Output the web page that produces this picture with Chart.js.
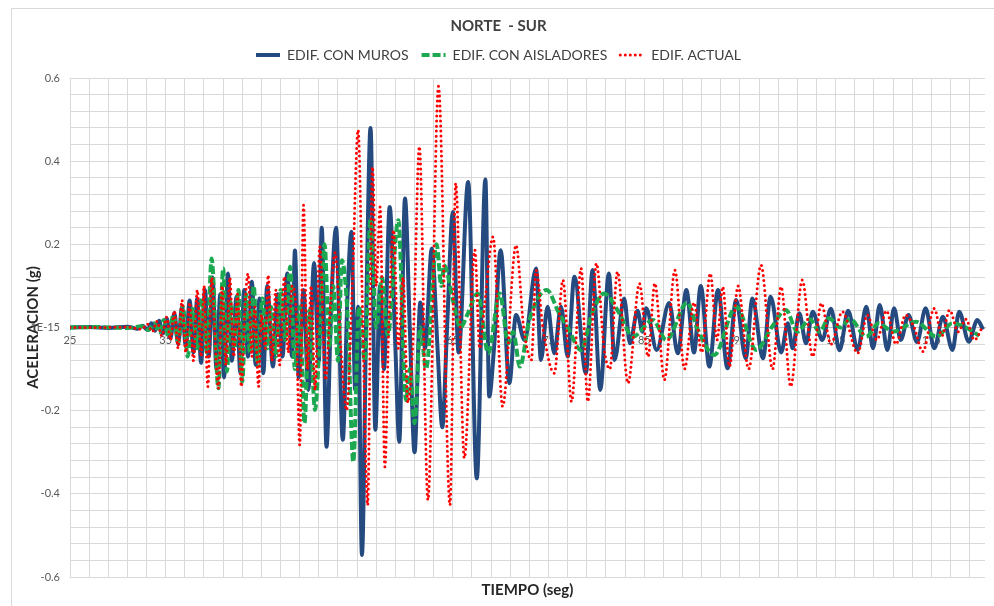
<!DOCTYPE html>
<html>
<head>
<meta charset="utf-8">
<title>NORTE - SUR</title>
<script src="https://cdn.jsdelivr.net/npm/chart.js@4.4.1/dist/chart.umd.min.js"></script>
<style>
  html, body { margin: 0; padding: 0; background: #fff; overflow: hidden; }
  #frame { position: absolute; left: 11px; top: 8px; width: 992px; height: 597px; border: 1px solid #d9d9d9; }
</style>
</head>
<body>
<div id="frame"><canvas id="chart" width="992" height="597"></canvas></div>
<script>
// Acceleration history (g) against time (s), one pair of arrays per building model
const tMuros = [25, 27, 29, 31, 32, 32.6, 33.1, 33.5, 33.9, 34.3, 34.7, 35.1, 35.5, 35.9, 36.3, 36.7, 37.1, 37.5, 37.9, 38.3,
  38.7, 39.1, 39.5, 39.9, 40.3, 40.7, 41.1, 41.5, 41.9, 42.4, 42.8, 43.2, 43.6, 44.0, 44.4, 44.8, 45.2, 45.6, 46.2, 46.7,
  47.2, 47.7, 48.2, 48.5, 48.9, 49.4, 49.9, 50.5, 51.0, 51.3, 51.8, 52.3, 52.8, 53.5, 54.0, 54.4, 54.8, 55.1, 55.5, 56.0,
  56.4, 56.9, 57.4, 57.8, 58.4, 59.0, 59.4, 60.0, 60.5, 61.0, 61.6, 62.1, 62.8, 63.4, 63.9, 64.4, 65.0, 65.6, 66.6, 67.5,
  68.4, 68.8, 69.3, 70.0, 70.9, 71.6, 72.5, 73.7, 74.2, 74.9, 75.6, 76.3, 77.0, 77.7, 78.9, 79.6, 80.4, 81.3, 81.9, 82.9,
  83.5, 84.3, 84.8, 85.2, 86.3, 87.6, 88.5, 89.4, 90.2, 90.9, 91.8, 92.7, 93.7, 94.6, 95.6, 96.3, 97.4, 98.2, 99.3, 100.0,
  100.5, 101.2, 101.9, 102.6, 103.6, 104.5, 105.4, 106.3, 107.3, 108.2, 108.9, 109.6, 110.4, 111.1, 111.8, 112.6, 113.5, 114.4, 115.3, 116.2,
  117.2, 117.9, 118.9, 119.8, 120.4];
const aMuros = [0, 0.001, -0.001, 0.002, -0.003, 0.004, -0.006, 0.01, -0.008, 0.016, -0.014, 0.022, -0.026, 0.035, -0.04, 0.05, -0.045, 0.065, -0.06, 0.07,
  -0.085, 0.09, -0.07, 0.12, -0.1, 0.08, -0.12, 0.13, -0.08, 0.074, -0.11, 0.09, -0.07, 0.11, -0.09, 0.07, -0.11, 0.1, -0.094, 0.08,
  -0.07, 0.13, -0.07, 0.185, -0.12, 0.09, -0.15, 0.155, -0.08, 0.24, -0.287, 0.06, 0.24, -0.27, 0.08, 0.23, -0.15, 0.05, -0.547, 0.1,
  0.48, -0.246, 0.1, -0.1, 0.29, -0.05, -0.275, 0.31, 0.0, -0.3, 0.06, -0.05, 0.19, -0.05, -0.24, 0.0, 0.278, -0.06, 0.35, -0.363,
  0.356, -0.166, -0.05, 0.186, -0.134, 0.03, -0.03, 0.142, -0.078, 0.05, -0.062, 0.05, -0.07, 0.122, -0.11, 0.138, -0.15, 0.13, -0.078, 0.07,
  -0.038, 0.04, -0.01, 0.046, -0.054, 0.059, -0.062, 0.09, -0.06, 0.1, -0.094, 0.09, -0.098, 0.066, -0.074, 0.07, -0.074, 0.074, -0.06, 0.01,
  -0.05, 0.034, -0.038, 0.038, -0.03, 0.045, -0.055, 0.04, -0.054, 0.05, -0.05, 0.054, -0.054, 0.046, -0.03, 0.03, -0.035, 0.046, -0.05, 0.026,
  -0.054, 0.038, -0.034, 0.018, -0.005];

const tAisladores = [25, 28, 31, 32.5, 33.2, 33.8, 34.3, 34.8, 35.3, 35.8, 36.3, 36.8, 37.3, 37.8, 38.3, 38.8, 39.3, 39.8, 40.5, 41.0,
  41.4, 41.8, 42.2, 42.6, 43.0, 43.4, 43.8, 44.2, 44.6, 45.1, 45.6, 46.0, 46.5, 47.0, 47.5, 48.0, 48.5, 49.0, 49.5, 50.0,
  50.6, 51.1, 51.6, 52.1, 52.5, 53.0, 53.4, 54.0, 54.6, 55.2, 55.8, 56.4, 57.0, 57.6, 58.2, 59.3, 60.1, 60.5, 61.0, 61.6,
  62.2, 63.3, 63.8, 64.1, 65.0, 65.8, 66.5, 67.6, 68.7, 69.9, 70.8, 71.3, 72.0, 73.0, 74.8, 76.1, 77.0, 78.4, 79.5, 80.8,
  82.4, 83.8, 85.9, 87.3, 89.5, 90.5, 92.3, 94.6, 96.7, 98.3, 99.8, 101.0, 102.3, 103.3, 104.3, 105.5, 106.5, 108.2, 109.5, 111.0,
  113.4, 115.5, 117.2, 118.6, 120.0];
const aAisladores = [0, 0.001, -0.001, 0.003, -0.006, 0.01, -0.012, 0.018, -0.022, 0.03, -0.035, 0.05, -0.07, 0.045, -0.05, 0.07, -0.06, 0.166, -0.146, 0.142,
  -0.106, 0.06, -0.05, 0.09, -0.13, 0.08, -0.06, 0.1, -0.09, 0.07, -0.05, 0.05, -0.07, 0.09, -0.03, 0.146, -0.1, 0.05, -0.23, 0.04,
  -0.198, -0.02, 0.2, -0.05, 0.1, -0.08, 0.162, 0.03, -0.323, 0.05, -0.08, 0.26, 0.0, 0.12, -0.02, 0.258, -0.175, -0.1, -0.23, 0.0,
  -0.1, 0.2, 0.1, 0.15, 0.066, 0.0, 0.03, 0.082, -0.062, 0.082, -0.038, -0.01, -0.094, 0.018, 0.09, 0.034, 0.0, -0.054, 0.03, 0.082,
  0.034, -0.022, 0.018, -0.03, 0.06, 0.0, -0.066, 0.05, -0.054, 0.0, 0.042, -0.01, 0.02, -0.01, 0.022, 0.0, 0.02, -0.022, 0.01, -0.01,
  0.014, -0.022, 0.01, 0.0, -0.02];

const tActual = [25, 28, 31, 32.5, 33.1, 33.6, 34.1, 34.6, 35.1, 35.5, 35.9, 36.3, 36.7, 37.1, 37.5, 37.9, 38.3, 38.7, 39.0, 39.4,
  39.8, 40.1, 40.5, 40.9, 41.3, 41.7, 42.1, 42.5, 42.9, 43.3, 43.6, 44.0, 44.3, 44.7, 45.0, 45.4, 45.7, 46.1, 46.5, 46.9,
  47.4, 47.8, 48.2, 48.6, 49.0, 49.4, 49.8, 50.2, 50.6, 51.1, 51.7, 52.2, 52.7, 53.3, 53.9, 54.5, 55.1, 55.6, 56.1, 56.6,
  57.0, 57.4, 57.9, 58.3, 58.8, 59.3, 59.8, 60.3, 60.9, 61.5, 62.4, 63.5, 64.7, 65.3, 66.2, 67.3, 67.8, 68.3, 69.2, 70.2,
  71.6, 72.4, 73.2, 73.7, 74.4, 75.6, 76.5, 77.4, 78.4, 79.1, 80.0, 80.8, 81.4, 82.2, 83.3, 84.5, 85.4, 86.1, 87.1, 88.2,
  89.2, 90.2, 91.0, 91.9, 92.6, 93.2, 93.9, 94.8, 95.9, 97.2, 98.4, 99.3, 100.3, 101.5, 102.6, 103.5, 104.5, 105.7, 107.3, 108.3,
  109.3, 110.3, 111.3, 112.3, 113.2, 114.1, 115.3, 116.1, 116.9, 117.8, 118.6, 119.5, 120.3];
const aActual = [0, 0, 0.001, -0.004, 0.008, -0.01, 0.015, -0.02, 0.025, -0.03, 0.04, -0.05, 0.066, -0.06, 0.06, -0.08, 0.09, -0.07, 0.1, -0.142,
  0.12, 0.0, -0.146, 0.1, -0.09, 0.12, -0.07, 0.08, -0.142, 0.06, 0.13, -0.07, 0.05, -0.142, 0.03, -0.05, 0.126, -0.08, 0.09, -0.09,
  0.122, -0.06, 0.1, 0.05, -0.282, 0.294, -0.1, 0.1, -0.15, 0.194, -0.126, 0.05, 0.18, -0.05, -0.198, 0.1, 0.475, 0.0, -0.427, 0.386,
  0.1, 0.29, -0.335, 0.0, 0.234, -0.05, 0.12, -0.18, 0.0, 0.435, -0.415, 0.58, -0.427, 0.347, -0.314, 0.186, -0.05, 0.05, 0.218, -0.19,
  0.198, 0.0, -0.078, 0.138, 0.0, -0.11, 0.114, -0.178, 0.142, -0.178, 0.154, -0.05, -0.1, 0.134, -0.134, 0.106, -0.07, 0.106, -0.126, 0.138,
  -0.1, 0.06, -0.06, 0.13, -0.03, 0.098, -0.094, 0.1, -0.1, 0.15, -0.1, 0.098, -0.142, 0.114, -0.07, 0.058, -0.04, 0.038, -0.062, 0.03,
  -0.03, 0.04, -0.04, 0.03, 0.0, -0.058, 0.046, -0.02, 0.042, -0.01, 0.02, -0.03, 0.0];

// axis labelling
const xLabels = [25, 35, 45, 55, 65, 75, 85, 95, 105, 115];
const yLabels = ['-0.6', '-0.4', '-0.2', '1E-15', '0.2', '0.4', '0.6'];
const xMin = 25, xMax = 120.6, xMinor = 2;
const yMin = -0.6, yMax = 0.6, yMinor = 0.04;

const xGrid = [];
for (let v = xMin; v < xMax; v += xMinor) xGrid.push(v);
const yGrid = [];
for (let i = 0; i <= Math.round((yMax - yMin) / yMinor); i++) yGrid.push(Math.round((yMin + i * yMinor) * 100) / 100);

const pts = (t, a) => t.map((x, i) => ({ x: x, y: a[i] }));

const FONT = 'Lato, "Liberation Sans", sans-serif';
Chart.defaults.font.family = FONT;
Chart.defaults.color = '#595959';

const gridColor = '#d9d9d9';

// a bit more room between the legend row and the plot
const legendGap = {
  id: 'legendGap',
  afterInit(chart) {
    const fit = chart.legend.fit;
    chart.legend.fit = function () {
      fit.call(this);
      this.height += 6;
    };
  }
};

new Chart(document.getElementById('chart'), {
  type: 'line',
  data: {
    datasets: [{
      label: 'EDIF. CON MUROS',
      data: pts(tMuros, aMuros),
      borderColor: '#254a7f',
      borderWidth: 4,
      order: 3
    }, {
      label: 'EDIF. CON AISLADORES',
      data: pts(tAisladores, aAisladores),
      borderColor: '#1ca850',
      borderWidth: 4,
      borderDash: [8, 3],
      order: 2
    }, {
      label: 'EDIF. ACTUAL',
      data: pts(tActual, aActual),
      borderColor: '#ff0000',
      borderWidth: 3,
      borderDash: [0, 5],
      borderCapStyle: 'round',
      order: 1
    }]
  },
  plugins: [legendGap],
  options: {
    responsive: false,
    animation: false,
    events: [],
    parsing: false,
    layout: { padding: { left: 0, right: 19, top: 0, bottom: 0 } },
    elements: {
      point: { radius: 0 },
      line: { cubicInterpolationMode: 'monotone' }
    },
    plugins: {
      title: {
        display: true,
        text: 'NORTE  - SUR',
        color: '#404040',
        font: { size: 15, weight: 'bold' },
        padding: { top: 8, bottom: 0 }
      },
      legend: {
        labels: {
          usePointStyle: true,
          pointStyleWidth: 24,
          color: '#404040',
          font: { size: 14 },
          padding: 13,
          generateLabels: chart => chart.data.datasets.map((ds, i) => ({
            text: ds.label,
            datasetIndex: i,
            strokeStyle: ds.borderColor,
            fillStyle: ds.borderColor,
            lineWidth: ds.borderWidth,
            lineDash: ds.borderDash || [],
            lineCap: ds.borderCapStyle || 'butt',
            pointStyle: 'line',
            fontColor: '#404040',
            hidden: false
          }))
        }
      },
      tooltip: { enabled: false }
    },
    scales: {
      x: {
        type: 'linear',
        position: { y: 0 },
        min: xMin,
        max: xMax,
        afterBuildTicks: s => { s.ticks = xGrid.map(v => ({ value: v })); },
        grid: { color: gridColor, drawTicks: false },
        border: { color: '#bfbfbf' },
        ticks: {
          autoSkip: false,
          maxRotation: 0,
          padding: 6,
          font: { size: 11 },
          color: '#595959',
          callback: v => xLabels.includes(v) ? String(v) : ''
        }
      },
      xt: {
        type: 'linear',
        position: 'bottom',
        min: 0,
        max: 1,
        afterFit: s => { s.height = 29; },
        grid: { display: false, drawTicks: false },
        border: { display: false },
        ticks: { display: false },
        title: {
          display: true,
          text: 'TIEMPO (seg)',
          color: '#262626',
          font: { size: 15, weight: 'bold' },
          padding: { top: 0, bottom: 7 }
        }
      },
      y: {
        min: yMin,
        max: yMax,
        afterBuildTicks: s => { s.ticks = yGrid.map(v => ({ value: v })); },
        afterFit: s => { s.width = 58; },
        grid: { color: gridColor, drawTicks: false },
        border: { color: gridColor },
        ticks: {
          autoSkip: false,
          padding: 10,
          font: { size: 11 },
          color: '#595959',
          callback: v => {
            const k = Math.round(v / 0.2);
            return Math.abs(v - k * 0.2) < 1e-6 ? yLabels[k + 3] : '';
          }
        },
        title: {
          display: true,
          text: 'ACELERACION (g)',
          color: '#262626',
          font: { size: 15, weight: 'bold' },
          padding: { top: 12, bottom: 0 }
        }
      }
    }
  }
});
</script>
</body>
</html>
